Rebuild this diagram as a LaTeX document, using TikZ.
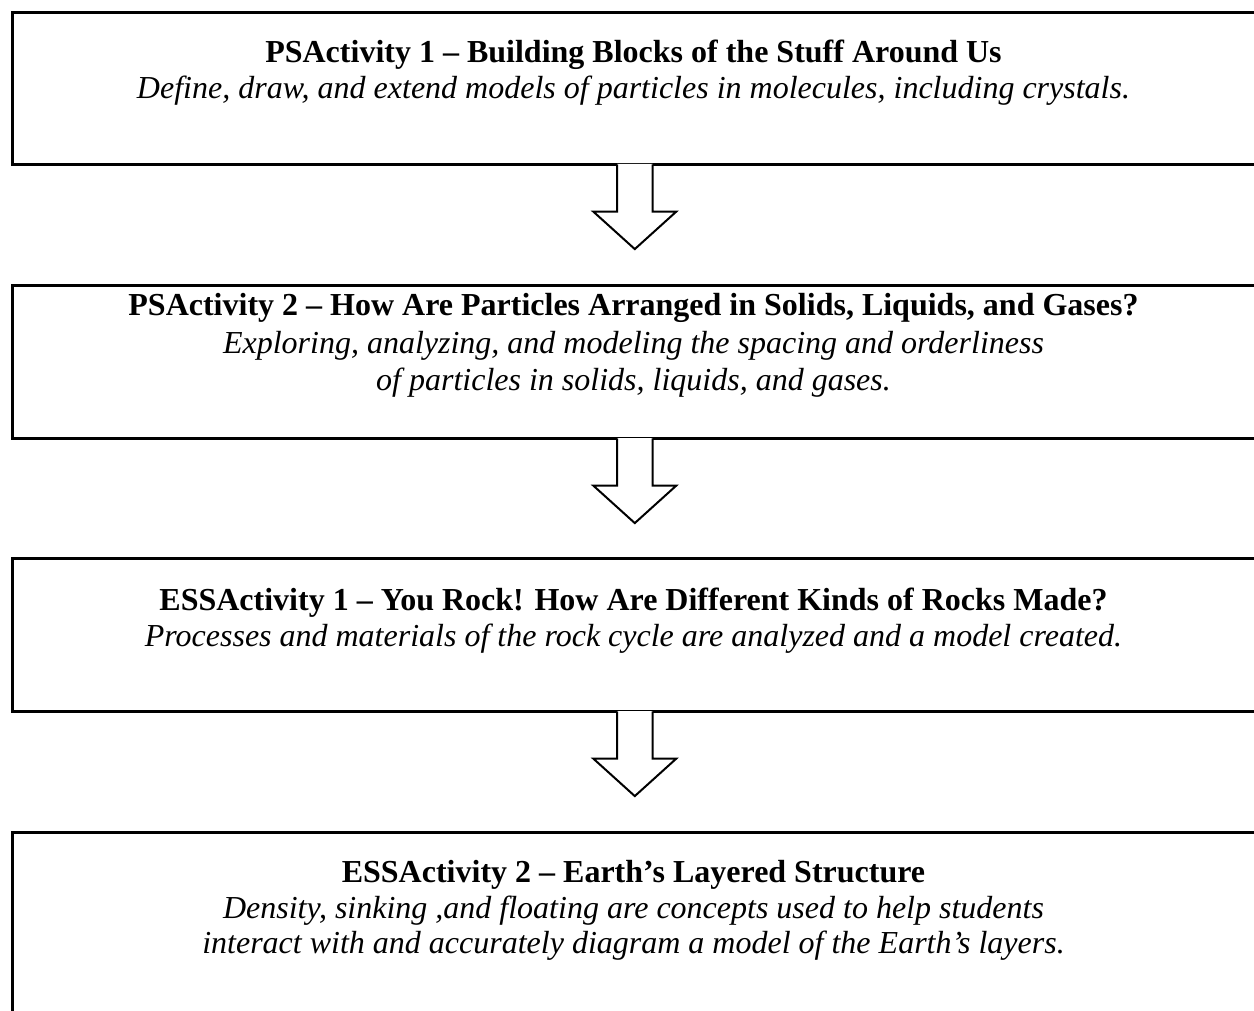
\documentclass[tikz,border=0pt]{standalone}
\usepackage{fontspec}
\setmainfont{Liberation Serif}
\begin{document}
\begin{tikzpicture}[x=1pt,y=-1pt]
\tikzset{
  box/.style={draw=black, line width=2.6pt, anchor=north west, minimum width=1245pt, inner sep=0pt},
  ttl/.style={font=\fontsize{32}{36}\selectfont\bfseries, anchor=base, inner sep=0pt},
  dsc/.style={font=\fontsize{32}{36}\selectfont\itshape, anchor=base, inner sep=0pt},
  arrline/.style={draw=black, line width=2pt, line join=miter},
}
\useasboundingbox (0,0) rectangle (1254,1011);
\clip (0,0) rectangle (1254,1011);
\fill[white] (0,0) rectangle (1254,1011);
% boxes
\node[box, minimum height=152pt] (b1) at (11,11) {};
\node[box, minimum height=153pt] (b2) at (11,284) {};
\node[box, minimum height=153pt] (b3) at (11,557) {};
\node[box, minimum height=250pt] (b4) at (11,831) {};
% texts
\node[ttl] (t1) at (633.5,63) {PSActivity 1 – Building Blocks of the Stuff Around Us};
\node[dsc] (d1) at (633.5,99) {Define, draw, and extend models of particles in molecules, including crystals.};
\node[ttl] (t2) at (633.5,316) {PSActivity 2 – How Are Particles Arranged in Solids, Liquids, and Gases?};
\node[dsc] (d2a) at (633.5,353) {Exploring, analyzing, and modeling the spacing and orderliness};
\node[dsc] (d2b) at (633.5,390) {of particles in solids, liquids, and gases.};
\node[ttl] (t3) at (633.5,610) {ESSActivity 1 – You Rock! How Are Different Kinds of Rocks Made?};
\node[dsc] (d3) at (633.5,646) {Processes and materials of the rock cycle are analyzed and a model created.};
\node[ttl] (t4) at (633.5,882) {ESSActivity 2 – Earth’s Layered Structure};
\node[dsc] (d4a) at (633.5,918) {Density, sinking ,and floating are concepts used to help students};
\node[dsc] (d4b) at (633.5,953) {interact with and accurately diagram a model of the Earth’s layers.};
% block arrows
\foreach \b/\n in {b1/b2, b2/b3, b3/b4}{
  \fill[white] ([shift={(-17.7,-1.6)}]\b.south) -- ([shift={(-17.7,46)}]\b.south) -- ([shift={(-41.5,46)}]\b.south)
     -- ([shift={(0,83.5)}]\b.south) -- ([shift={(41.5,46)}]\b.south) -- ([shift={(17.7,46)}]\b.south)
     -- ([shift={(17.7,-1.6)}]\b.south) -- cycle;
  \draw[arrline] ([shift={(-17.7,-1.3)}]\b.south) -- ([shift={(-17.7,46)}]\b.south) -- ([shift={(-41.5,46)}]\b.south)
     -- ([shift={(0,83.5)}]\b.south) -- ([shift={(41.5,46)}]\b.south) -- ([shift={(17.7,46)}]\b.south)
     -- ([shift={(17.7,-1.3)}]\b.south);
}
\end{tikzpicture}
\end{document}
